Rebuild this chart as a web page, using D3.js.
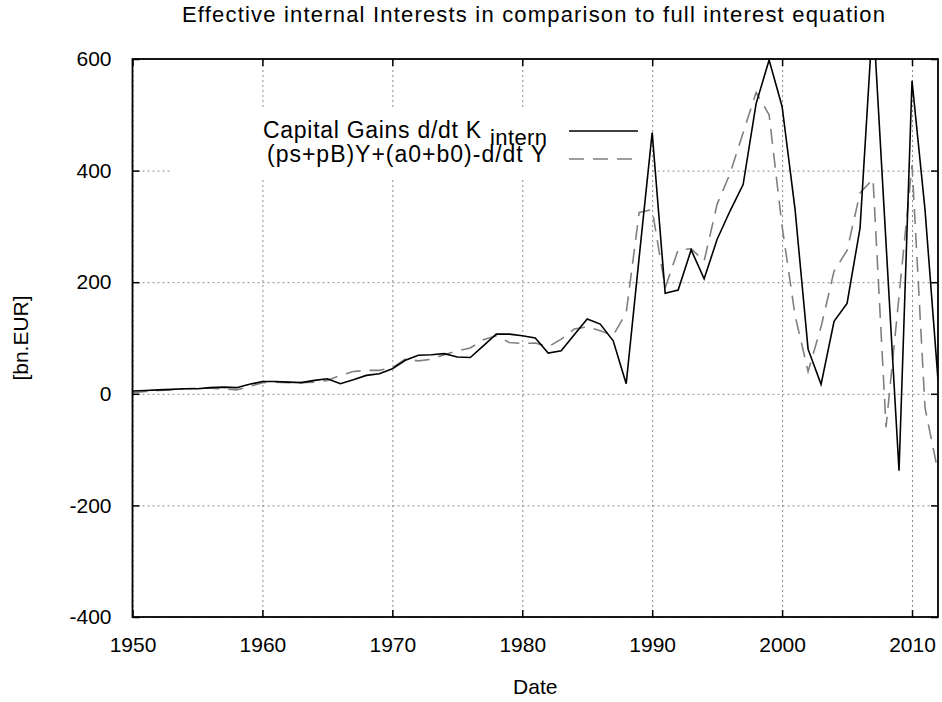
<!DOCTYPE html>
<html>
<head>
<meta charset="utf-8">
<script src="https://cdn.jsdelivr.net/npm/d3@7"></script>
<style>
  html, body { margin: 0; padding: 0; background: #fff; }
  svg { display: block; font-family: "Liberation Sans", Arial, sans-serif; }
  .grid line { stroke: #8a8a8a; stroke-width: 1; stroke-dasharray: 2 3; }
  .grid path { display: none; }
  .axis path { display: none; }
  .axis line { stroke: #000; stroke-width: 1.5; }
  .axis text { font-size: 21px; fill: #000; font-family: "Liberation Sans", Arial, sans-serif; }
</style>
</head>
<body>
<svg id="chart" width="942" height="702"></svg>
<script>
// Annual values, 1950-2012, in bn. EUR
const years = d3.range(1950, 2013);
const capitalGains = [
  5, 6, 7, 8, 9, 9, 11, 12, 11, 17,
  22, 22, 21, 20, 24, 27, 18, 25, 33, 36,
  45, 60, 69, 70, 72, 66, 65, 86, 107, 107,
  104, 100, 73, 77, 106, 134, 125, 95, 18, 245,
  468, 180, 186, 258, 206, 277, 328, 375, 520, 598,
  515, 330, 80, 17, 130, 162, 297, 680, 270, -138,
  561, 330, 25
];
const interestEquation = [
  2, 4, 6, 7, 9, 10, 10, 9, 7, 13,
  20, 21, 20, 20, 21, 24, 33, 40, 42, 42,
  47, 62, 59, 62, 70, 77, 82, 97, 104, 92,
  90, 91, 84, 98, 116, 120, 113, 105, 145, 325,
  330, 190, 258, 260, 238, 340, 395, 468, 540, 500,
  300, 140, 40, 120, 220, 257, 360, 385, -60, 175,
  410, -25, -140
];
const xTicks = [1950, 1960, 1970, 1980, 1990, 2000, 2010];
const yTicks = [-400, -200, 0, 200, 400, 600];

const titleText = "Effective internal Interests in comparison to full interest equation";
const xLabel = "Date";
const yLabel = "[bn.EUR]";
const legend1Main = "Capital Gains d/dt K";
const legend1Sub = "intern";
const legend2 = "(ps+pB)Y+(a0+b0)-d/dt Y";

const svg = d3.select("#chart");
const margin = { left: 132.5, right: 4, top: 59, bottom: 85 };
const W = 942, H = 702;
const x = d3.scaleLinear().domain([1950, 2012]).range([margin.left, W - margin.right]);
const y = d3.scaleLinear().domain([-400, 600]).range([H - margin.bottom, margin.top]);
const x0 = x.range()[0], x1 = x.range()[1], yb = y.range()[0], yt = y.range()[1];
const plain = d => String(d);

svg.append("rect").attr("width", W).attr("height", H).attr("fill", "#fff");

svg.append("defs").append("clipPath").attr("id", "plotClip")
  .append("rect").attr("x", x0).attr("y", yt).attr("width", x1 - x0).attr("height", yb - yt);

// dotted grid
svg.append("g").attr("class", "grid")
  .attr("transform", `translate(0,${yb})`)
  .call(d3.axisBottom(x).tickValues(xTicks).tickSize(-(yb - yt)).tickFormat(""));
svg.append("g").attr("class", "grid")
  .attr("transform", `translate(${x0},0)`)
  .call(d3.axisLeft(y).tickValues(yTicks).tickSize(-(x1 - x0)).tickFormat(""));

// opaque key background
const keyG = svg.append("g");
keyG.append("rect")
  .attr("x", x(1953)).attr("y", y(510))
  .attr("width", x(1990) - x(1953) - 2).attr("height", y(385) - y(510))
  .attr("fill", "#fff");

// series
const line = d3.line().x((d, i) => x(years[i])).y(d => y(d));
const plot = svg.append("g").attr("clip-path", "url(#plotClip)");
plot.append("path").datum(interestEquation)
  .attr("d", line).attr("fill", "none")
  .attr("stroke", "#808080").attr("stroke-width", 1.6)
  .attr("stroke-dasharray", "15 9");
plot.append("path").datum(capitalGains)
  .attr("d", line).attr("fill", "none")
  .attr("stroke", "#000").attr("stroke-width", 1.6)
  .attr("stroke-linejoin", "miter");

// axes with inward ticks on all four sides
const tick = 7;
svg.append("g").attr("class", "axis").attr("transform", `translate(0,${yb})`)
  .call(d3.axisBottom(x).tickValues(xTicks).tickSize(-tick).tickPadding(20).tickFormat(plain));
svg.append("g").attr("class", "axis").attr("transform", `translate(0,${yt})`)
  .call(d3.axisTop(x).tickValues(xTicks).tickSize(-tick).tickFormat(""));
svg.append("g").attr("class", "axis").attr("transform", `translate(${x0},0)`)
  .call(d3.axisLeft(y).tickValues(yTicks).tickSize(-tick).tickPadding(21).tickFormat(plain));
svg.append("g").attr("class", "axis").attr("transform", `translate(${x1},0)`)
  .call(d3.axisRight(y).tickValues(yTicks).tickSize(-tick).tickFormat(""));

svg.append("rect")
  .attr("x", x0).attr("y", yt).attr("width", x1 - x0).attr("height", yb - yt)
  .attr("fill", "none").attr("stroke", "#000").attr("stroke-width", 1.8);

// title and axis labels
svg.append("text").attr("x", 182).attr("y", 22)
  .attr("font-size", 22).attr("textLength", 703).attr("lengthAdjust", "spacing")
  .text(titleText);
svg.append("text").attr("x", (x0 + x1) / 2).attr("y", 694)
  .attr("text-anchor", "middle").attr("font-size", 21).text(xLabel);
svg.append("text")
  .attr("transform", `translate(28,${(yt + yb) / 2}) rotate(-90)`)
  .attr("text-anchor", "middle").attr("font-size", 21).text(yLabel);

// key
keyG.append("text").attr("x", 263).attr("y", 138)
  .attr("font-size", 23).attr("textLength", 218).attr("lengthAdjust", "spacing")
  .text(legend1Main);
keyG.append("text").attr("x", 490).attr("y", 145)
  .attr("font-size", 22).attr("textLength", 57).attr("lengthAdjust", "spacing")
  .text(legend1Sub);
keyG.append("text").attr("x", 267).attr("y", 162)
  .attr("font-size", 23).attr("textLength", 279).attr("lengthAdjust", "spacing")
  .text(legend2);
keyG.append("line").attr("x1", 569).attr("x2", 638).attr("y1", 131).attr("y2", 131)
  .attr("stroke", "#000").attr("stroke-width", 1.6);
keyG.append("line").attr("x1", 569).attr("x2", 638).attr("y1", 159).attr("y2", 159)
  .attr("stroke", "#808080").attr("stroke-width", 1.6).attr("stroke-dasharray", "15 9");
</script>
</body>
</html>
